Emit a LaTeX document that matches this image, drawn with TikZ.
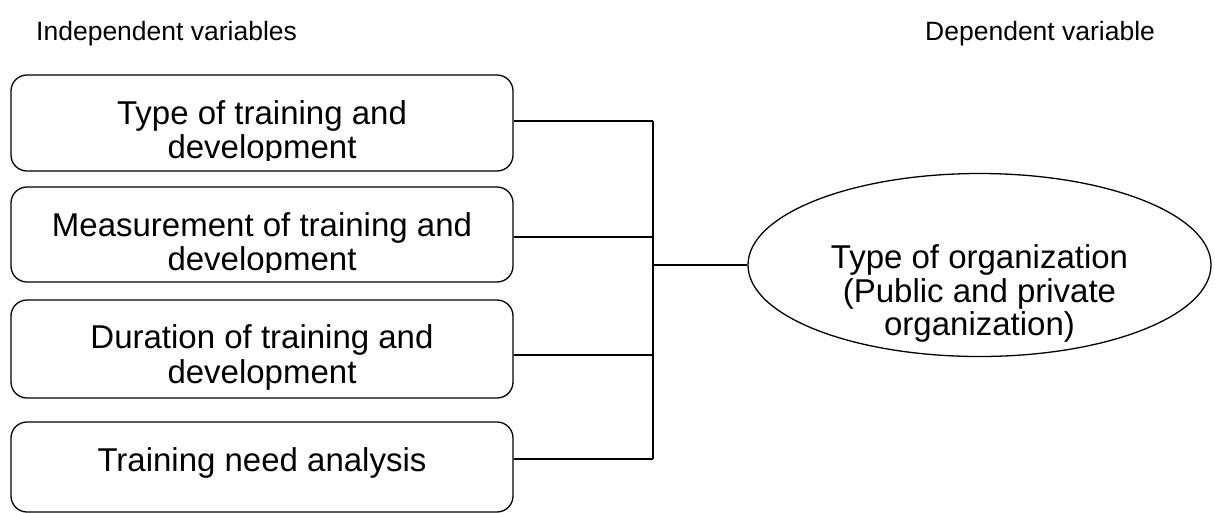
\documentclass[tikz,border=0pt]{standalone}
\usepackage{fontspec}
\setmainfont{Liberation Sans}
\usetikzlibrary{shapes.geometric}
\begin{document}
\begin{tikzpicture}[x=1pt,y=-1pt,
  boxshape/.style={draw, line width=1.3pt, rounded corners=16pt, minimum width=502pt, inner sep=0pt},
  txt/.style={inner sep=0pt, anchor=base, font=\fontsize{33}{36}\selectfont},
  head/.style={inner sep=0pt, anchor=base west, font=\fontsize{26.5}{30}\selectfont},
  link/.style={line width=1.3pt}]
\useasboundingbox (0,0) rectangle (1215,512);
% headings
\node[head] (h1) at (36,40) {Independent variables};
\node[head] (h2) at (925,40) {Dependent variable};
% boxes
\node[boxshape, minimum height=96pt] (b1) at (262,123) {};
\node[boxshape, minimum height=95pt] (b2) at (262,234.5) {};
\node[boxshape, minimum height=98pt] (b3) at (262,349) {};
\node[boxshape, minimum height=90pt] (b4) at (262,467) {};
% box texts
\node[txt] (t1a) at (262,124) {Type of training and};
\begin{scope}
\clip (11,131) rectangle (513,160);
\node[txt] (t1b) at (262,158) {development};
\end{scope}
\node[txt] (t2a) at (262,236) {Measurement of training and};
\begin{scope}
\clip (11,243) rectangle (513,272);
\node[txt] (t2b) at (262,270) {development};
\end{scope}
\node[txt] (t3a) at (262,348) {Duration of training and};
\node[txt] (t3b) at (262,383) {development};
\node[txt] (t4a) at (262,471) {Training need analysis};
% ellipse
\node[draw, ellipse, line width=1.3pt, minimum width=463pt, minimum height=183pt, inner sep=0pt] (el) at (979.5,265) {};
\node[txt] (e1) at (979.5,268) {Type of organization};
\node[txt] (e2) at (979.5,302) {(Public and private};
\node[txt] (e3) at (979.5,335) {organization)};
% connectors
\coordinate (s1) at (653,121);
\coordinate (s2) at (653,237);
\coordinate (s3) at (653,355);
\coordinate (s4) at (653,459);
\coordinate (sm) at (653,265);
\draw[link] (b1.east |- s1) -- (s1);
\draw[link] (b2.east |- s2) -- (s2);
\draw[link] (b3.east |- s3) -- (s3);
\draw[link] (b4.east |- s4) -- (s4);
\draw[link] (s1) -- (s4);
\draw[link] (sm) -- (el.west);
\end{tikzpicture}
\end{document}
